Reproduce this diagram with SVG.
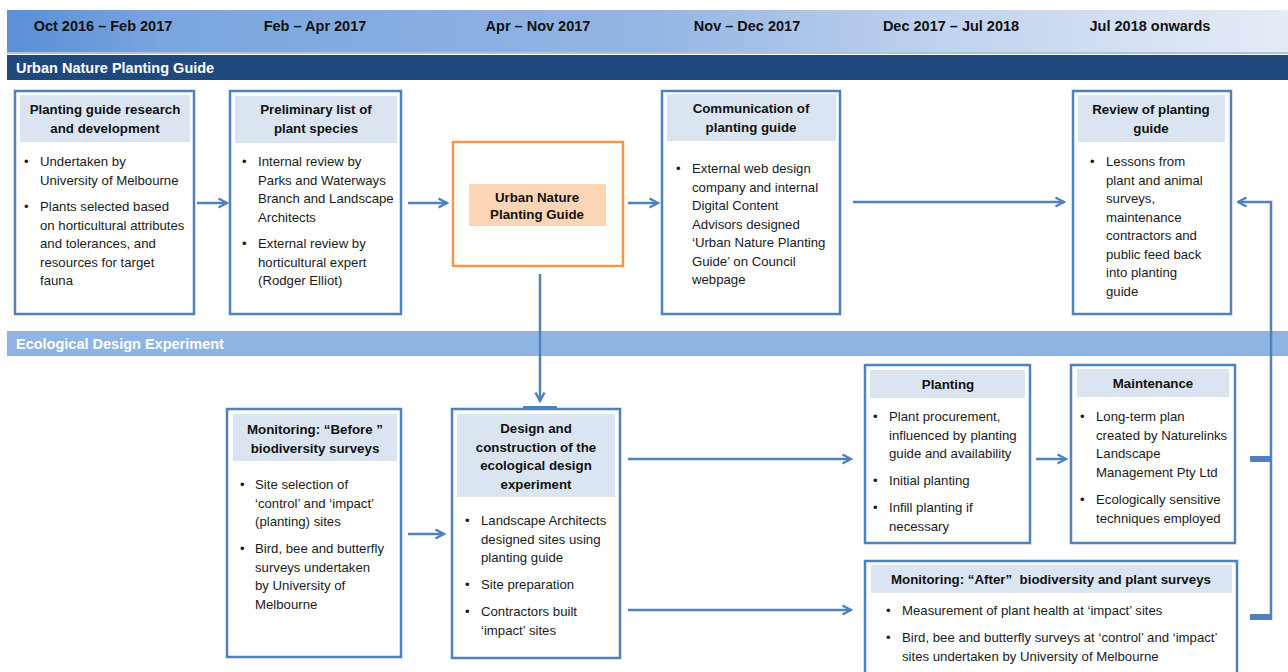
<svg xmlns="http://www.w3.org/2000/svg" width="1288" height="672" viewBox="0 0 1288 672">
<defs>
<linearGradient id="hdrGrad" x1="0" y1="0" x2="1" y2="0">
<stop offset="0" stop-color="#5A8ED6"/>
<stop offset="0.12" stop-color="#7AA5DE"/>
<stop offset="0.5" stop-color="#93B5E3"/>
<stop offset="0.72" stop-color="#BFD1EE"/>
<stop offset="1" stop-color="#E6ECF6"/>
</linearGradient>
<marker id="arr" viewBox="0 0 12 12" refX="10.5" refY="6" markerWidth="12" markerHeight="12" markerUnits="userSpaceOnUse" orient="auto">
<path d="M2,1.5 L10.5,6 L2,10.5" fill="none" stroke="#4F81BD" stroke-width="2.4"/>
</marker>
<style>
.box{fill:#fff;stroke:#4F81BD;stroke-width:2.5}
.hd{fill:#DBE5F1}
.t{font-family:"Liberation Sans",Arial,sans-serif;font-size:13.2px;fill:#1a1a1a}
.b{font-family:"Liberation Sans",Arial,sans-serif;font-size:13.3px;font-weight:bold;fill:#111;text-anchor:middle}
.date{font-family:"Liberation Sans",Arial,sans-serif;font-size:14.5px;font-weight:bold;fill:#111;text-anchor:middle}
.band{font-family:"Liberation Sans",Arial,sans-serif;font-size:14.5px;font-weight:bold;fill:#fff}
.con{fill:none;stroke:#4F81BD;stroke-width:2.5}
</style>
</defs>
<rect width="1288" height="672" fill="#fff"/>

<g id="timeline">
<rect x="7" y="10" width="1281" height="43" fill="url(#hdrGrad)"/>
<rect x="7" y="52" width="1281" height="2" fill="#A9C2E6"/>
<text class="date" x="103" y="31">Oct 2016 – Feb 2017</text>
<text class="date" x="315" y="31">Feb – Apr 2017</text>
<text class="date" x="538" y="31">Apr – Nov 2017</text>
<text class="date" x="747" y="31">Nov – Dec 2017</text>
<text class="date" x="951" y="31">Dec 2017 – Jul 2018</text>
<text class="date" x="1150" y="31">Jul 2018 onwards</text>
</g>

<g id="band-urban">
<rect x="7" y="55" width="1281" height="25" fill="#1F497D"/>
<text class="band" x="16" y="72.5">Urban Nature Planting Guide</text>
</g>

<g id="band-eco">
<rect x="7" y="331" width="1281" height="25" fill="#8EB4E3"/>
<text class="band" x="16" y="348.5">Ecological Design Experiment</text>
</g>

<g id="connectors">
<line class="con" x1="197" y1="203" x2="227" y2="203" marker-end="url(#arr)"/>
<line class="con" x1="408" y1="203" x2="447" y2="203" marker-end="url(#arr)"/>
<line class="con" x1="628" y1="203" x2="658" y2="203" marker-end="url(#arr)"/>
<line class="con" x1="853" y1="202" x2="1064" y2="202" marker-end="url(#arr)"/>
<line class="con" x1="540" y1="274" x2="540" y2="401" marker-end="url(#arr)"/>
<line class="con" x1="408" y1="534" x2="444" y2="534" marker-end="url(#arr)"/>
<line class="con" x1="628" y1="459" x2="851" y2="459" marker-end="url(#arr)"/>
<line class="con" x1="628" y1="610" x2="851" y2="610" marker-end="url(#arr)"/>
<line class="con" x1="1036" y1="459" x2="1066" y2="459" marker-end="url(#arr)"/>
<path class="con" d="M1271,620 V202 H1238" marker-end="url(#arr)"/>
<rect x="1250" y="456" width="22" height="6" fill="#4F81BD"/>
<rect x="1250" y="614" width="22" height="6" fill="#4F81BD"/>
</g>

<g id="node-research">
<rect class="box" x="15" y="91" width="179" height="223"/>
<rect class="hd" x="20" y="95" width="170" height="47"/>
<text class="b" x="105" y="114"><tspan x="105">Planting guide research</tspan><tspan x="105" dy="18.5">and development</tspan></text>
<text class="t"><tspan x="24" y="166">•</tspan><tspan x="40" y="166">Undertaken by</tspan><tspan x="40" y="184.5">University of Melbourne</tspan><tspan x="24" y="211">•</tspan><tspan x="40" y="211">Plants selected based</tspan><tspan x="40" y="229.5">on horticultural attributes</tspan><tspan x="40" y="248">and tolerances, and</tspan><tspan x="40" y="266.5">resources for target</tspan><tspan x="40" y="285">fauna</tspan></text>
</g>

<g id="node-prelim">
<rect class="box" x="230" y="91" width="171" height="223"/>
<rect class="hd" x="235" y="96" width="162" height="47"/>
<text class="b" x="316" y="114"><tspan x="316">Preliminary list of</tspan><tspan x="316" dy="18.5">plant species</tspan></text>
<text class="t"><tspan x="242" y="166">•</tspan><tspan x="258" y="166">Internal review by</tspan><tspan x="258" y="184.5">Parks and Waterways</tspan><tspan x="258" y="203">Branch and Landscape</tspan><tspan x="258" y="221.5">Architects</tspan><tspan x="242" y="248">•</tspan><tspan x="258" y="248">External review by</tspan><tspan x="258" y="266.5">horticultural expert</tspan><tspan x="258" y="285">(Rodger Elliot)</tspan></text>
</g>

<g id="node-guide">
<rect x="453" y="142" width="170" height="124" fill="#fff" stroke="#F79646" stroke-width="2.5"/>
<rect x="469" y="184" width="137" height="42" fill="#FBD5B5"/>
<text class="b" x="537" y="202"><tspan x="537">Urban Nature</tspan><tspan x="537" dy="16.5">Planting Guide</tspan></text>
</g>

<g id="node-communication">
<rect class="box" x="662" y="91" width="178" height="223"/>
<rect class="hd" x="667" y="94" width="169" height="47"/>
<text class="b" x="751" y="113"><tspan x="751">Communication of</tspan><tspan x="751" dy="18.5">planting guide</tspan></text>
<text class="t"><tspan x="676" y="173">•</tspan><tspan x="692" y="173">External web design</tspan><tspan x="692" y="191.5">company and internal</tspan><tspan x="692" y="210">Digital Content</tspan><tspan x="692" y="228.5">Advisors designed</tspan><tspan x="692" y="247">‘Urban Nature Planting</tspan><tspan x="692" y="265.5">Guide’ on Council</tspan><tspan x="692" y="284">webpage</tspan></text>
</g>

<g id="node-review">
<rect class="box" x="1073" y="91" width="158" height="223"/>
<rect class="hd" x="1078" y="95" width="147" height="47"/>
<text class="b" x="1151" y="114"><tspan x="1151">Review of planting</tspan><tspan x="1151" dy="18.5">guide</tspan></text>
<text class="t"><tspan x="1090" y="166">•</tspan><tspan x="1106" y="166">Lessons from</tspan><tspan x="1106" y="184.5">plant and animal</tspan><tspan x="1106" y="203">surveys,</tspan><tspan x="1106" y="221.5">maintenance</tspan><tspan x="1106" y="240">contractors and</tspan><tspan x="1106" y="258.5">public feed back</tspan><tspan x="1106" y="277">into planting</tspan><tspan x="1106" y="295.5">guide</tspan></text>
</g>

<g id="node-before">
<rect class="box" x="227" y="409" width="174" height="248"/>
<rect class="hd" x="233" y="414" width="164" height="47"/>
<text class="b" x="315" y="434"><tspan x="315">Monitoring: “Before ”</tspan><tspan x="315" dy="18.5">biodiversity surveys</tspan></text>
<text class="t"><tspan x="240" y="489">•</tspan><tspan x="255" y="489">Site selection of</tspan><tspan x="255" y="507.5">‘control’ and ‘impact’</tspan><tspan x="255" y="526">(planting) sites</tspan><tspan x="240" y="553">•</tspan><tspan x="255" y="553">Bird, bee and butterfly</tspan><tspan x="255" y="571.5">surveys undertaken</tspan><tspan x="255" y="590">by University of</tspan><tspan x="255" y="608.5">Melbourne</tspan></text>
</g>

<g id="node-design">
<rect class="box" x="452" y="409" width="168" height="249"/>
<rect x="523" y="406" width="34" height="4" fill="#4F81BD"/>
<rect class="hd" x="457" y="414" width="158" height="83"/>
<text class="b" x="536" y="433"><tspan x="536">Design and</tspan><tspan x="536" dy="18.5">construction of the</tspan><tspan x="536" dy="18.5">ecological design</tspan><tspan x="536" dy="18.5">experiment</tspan></text>
<text class="t"><tspan x="465" y="525">•</tspan><tspan x="481" y="525">Landscape Architects</tspan><tspan x="481" y="543.5">designed sites using</tspan><tspan x="481" y="562">planting guide</tspan><tspan x="465" y="589">•</tspan><tspan x="481" y="589">Site preparation</tspan><tspan x="465" y="616">•</tspan><tspan x="481" y="616">Contractors built</tspan><tspan x="481" y="634.5">‘impact’ sites</tspan></text>
</g>

<g id="node-planting">
<rect class="box" x="865" y="365" width="165" height="178"/>
<rect class="hd" x="870" y="370" width="155" height="28"/>
<text class="b" x="948" y="389">Planting</text>
<text class="t"><tspan x="873" y="421">•</tspan><tspan x="889" y="421">Plant procurement,</tspan><tspan x="889" y="439.5">influenced by planting</tspan><tspan x="889" y="458">guide and availability</tspan><tspan x="873" y="485">•</tspan><tspan x="889" y="485">Initial planting</tspan><tspan x="873" y="512">•</tspan><tspan x="889" y="512">Infill planting if</tspan><tspan x="889" y="530.5">necessary</tspan></text>
</g>

<g id="node-maintenance">
<rect class="box" x="1071" y="365" width="164" height="178"/>
<rect class="hd" x="1077" y="369" width="152" height="28"/>
<text class="b" x="1153" y="388">Maintenance</text>
<text class="t"><tspan x="1080" y="421">•</tspan><tspan x="1096" y="421">Long-term plan</tspan><tspan x="1096" y="439.5">created by Naturelinks</tspan><tspan x="1096" y="458">Landscape</tspan><tspan x="1096" y="476.5">Management Pty Ltd</tspan><tspan x="1080" y="504">•</tspan><tspan x="1096" y="504">Ecologically sensitive</tspan><tspan x="1096" y="522.5">techniques employed</tspan></text>
</g>

<g id="node-after">
<rect class="box" x="865" y="561" width="372" height="120"/>
<rect class="hd" x="871" y="565" width="361" height="28"/>
<text class="b" x="1051" y="584" xml:space="preserve">Monitoring: “After”  biodiversity and plant surveys</text>
<text class="t"><tspan x="886" y="615">•</tspan><tspan x="902" y="615">Measurement of plant health at ‘impact’ sites</tspan><tspan x="886" y="642">•</tspan><tspan x="902" y="642">Bird, bee and butterfly surveys at ‘control’ and ‘impact’</tspan><tspan x="902" y="660.5">sites undertaken by University of Melbourne</tspan></text>
</g>
</svg>
